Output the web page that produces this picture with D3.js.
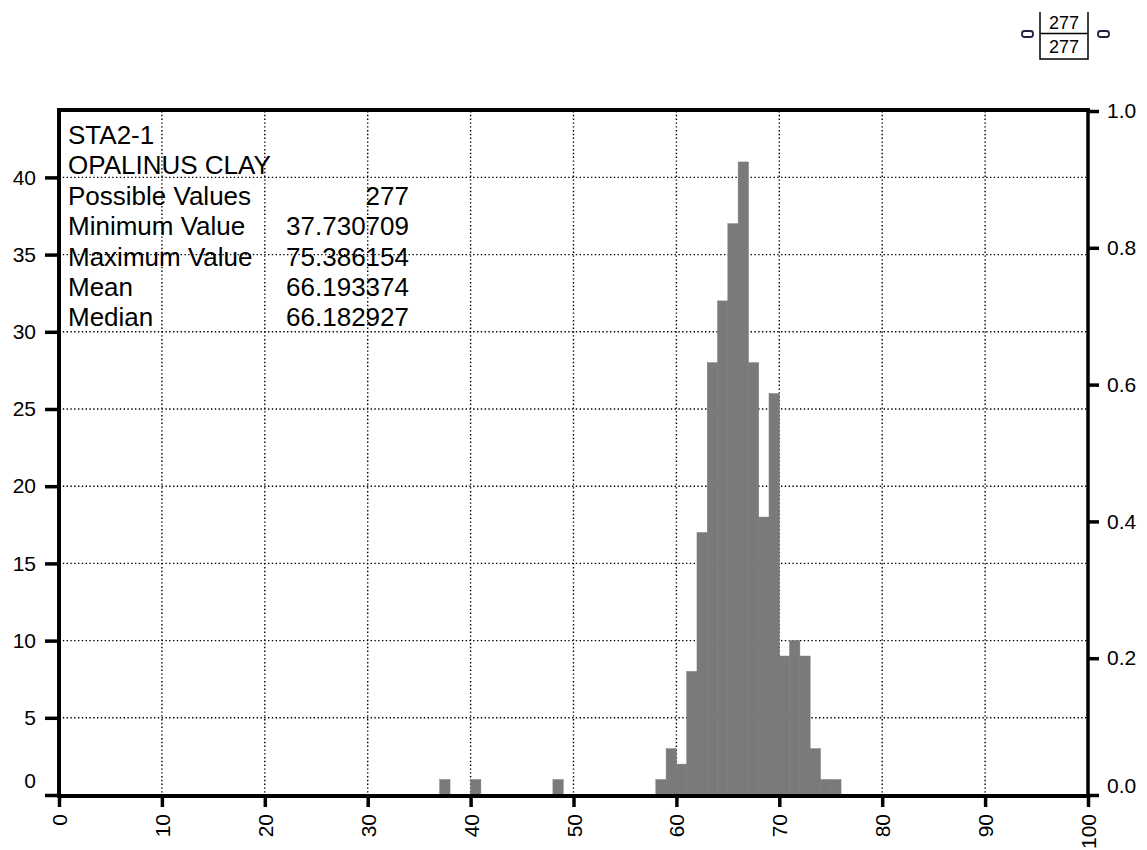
<!DOCTYPE html>
<html>
<head>
<meta charset="utf-8">
<script src="https://cdn.jsdelivr.net/npm/d3@7"></script>
<style>
  body { margin: 0; background: #fff; }
  text { font-family: "Liberation Sans", Arial, sans-serif; }
</style>
</head>
<body>
<div id="grafico"></div>
<script>
// datos del histograma (inicio de cada clase, ancho 1)
const binStarts = [37, 40, 48, 58, 59, 60, 61, 62, 63, 64, 65, 66, 67, 68, 69, 70, 71, 72, 73, 74, 75];
const counts    = [1, 1, 1, 1, 3, 2, 8, 17, 28, 32, 37, 41, 28, 18, 26, 9, 10, 9, 3, 1, 1];
const BIN_WIDTH = 1;

const titleLines = ["STA2-1", "OPALINUS CLAY"];
const statLabels = ["Possible Values", "Minimum Value", "Maximum Value", "Mean", "Median"];
const statValues = ["277", "37.730709", "75.386154", "66.193374", "66.182927"];
const legendValues = ["277", "277"];

const xTicks = [0, 10, 20, 30, 40, 50, 60, 70, 80, 90, 100];
const yTicks = [0, 5, 10, 15, 20, 25, 30, 35, 40];
const y2Ticks = [0, 0.2, 0.4, 0.6, 0.8, 1.0];
const Y_MAX = 44.3;

const WIDTH = 1147;
const HEIGHT = 850;
const LEFT = 59, RIGHT = 1088, TOP = 111, BOTTOM = 795;

const SVG = d3.select("#grafico").append("svg").attr("width", WIDTH).attr("height", HEIGHT);

var escalaX = d3.scaleLinear().domain([0, 100]).range([LEFT, RIGHT]);
var escalaY = d3.scaleLinear().domain([0, Y_MAX]).range([BOTTOM, TOP]);
var escalaY2 = d3.scaleLinear().domain([0, 1]).range([BOTTOM, TOP]);

// rejilla punteada
var rejilla = SVG.append("g")
    .attr("stroke", "#000")
    .attr("stroke-width", 1.4)
    .attr("stroke-dasharray", "1.4,2.4");
rejilla.selectAll(".gx")
    .data(xTicks.filter(d => d > 0 && d < 100))
    .enter().append("line")
    .attr("x1", d => escalaX(d)).attr("x2", d => escalaX(d))
    .attr("y1", TOP).attr("y2", BOTTOM);
rejilla.selectAll(".gy")
    .data(yTicks.filter(d => d > 0))
    .enter().append("line")
    .attr("x1", LEFT).attr("x2", RIGHT)
    .attr("y1", d => escalaY(d)).attr("y2", d => escalaY(d));

// barras
SVG.append("g").selectAll("rect")
    .data(binStarts.map((b, i) => [b, counts[i]]))
    .enter().append("rect")
    .attr("x", d => escalaX(d[0]))
    .attr("width", d => escalaX(d[0] + BIN_WIDTH) - escalaX(d[0]))
    .attr("y", d => escalaY(d[1]))
    .attr("height", d => BOTTOM - escalaY(d[1]))
    .attr("fill", "#7a7a7a")
    .attr("stroke", "#7a7a7a")
    .attr("stroke-width", 0.5);

// texto de estadísticas
var info = SVG.append("g").style("font-size", "26px").attr("fill", "#000");
titleLines.forEach(function(t, i) {
    info.append("text").attr("x", 68).attr("y", 144 + i * 30.4).text(t);
});
statLabels.forEach(function(t, i) {
    info.append("text").attr("x", 68).attr("y", 144 + (i + 2) * 30.4).text(t);
    info.append("text").attr("x", 409).attr("y", 144 + (i + 2) * 30.4)
        .attr("text-anchor", "end").text(statValues[i]);
});

// ejes
var ejeX = d3.axisBottom(escalaX).tickValues(xTicks).tickSize(11).tickPadding(7).tickSizeOuter(0);
var ejeY = d3.axisLeft(escalaY).tickValues(yTicks).tickSize(14).tickPadding(9).tickSizeOuter(0);
var ejeY2 = d3.axisRight(escalaY2).tickValues(y2Ticks).tickSize(11).tickPadding(8).tickSizeOuter(0)
    .tickFormat(d3.format(".1f"));

var gx = SVG.append("g").attr("transform", "translate(0," + (BOTTOM + 1) + ")").call(ejeX);
gx.selectAll(".tick text")
    .attr("transform", "rotate(-90)")
    .attr("x", -18)
    .attr("y", 0)
    .attr("dy", "0.36em")
    .style("text-anchor", "end");

var gy = SVG.append("g").attr("transform", "translate(" + LEFT + ",0)").call(ejeY);
gy.selectAll(".tick").filter(d => d === 0).select("text").attr("dy", "-0.35em");

var gy2 = SVG.append("g").attr("transform", "translate(" + RIGHT + ",0)").call(ejeY2);
gy2.selectAll(".tick").filter(d => d === 0).select("text").attr("dy", "-0.1em");

[gx, gy, gy2].forEach(function(g) {
    g.selectAll(".domain").remove();
    g.selectAll(".tick line").attr("stroke", "#000").attr("stroke-width", 3.5);
    g.selectAll("text").attr("fill", "#000").style("font-size", "21px")
        .style("font-family", "'Liberation Sans', Arial, sans-serif");
});

// marco grueso
var marco = SVG.append("g").attr("stroke", "#000").attr("stroke-linecap", "square");
marco.append("line").attr("x1", LEFT).attr("x2", LEFT).attr("y1", TOP).attr("y2", BOTTOM + 1).attr("stroke-width", 4);
marco.append("line").attr("x1", LEFT).attr("x2", RIGHT).attr("y1", BOTTOM + 1).attr("y2", BOTTOM + 1).attr("stroke-width", 4);
marco.append("line").attr("x1", LEFT).attr("x2", RIGHT).attr("y1", TOP - 1).attr("y2", TOP - 1).attr("stroke-width", 4);
marco.append("line").attr("x1", RIGHT).attr("x2", RIGHT).attr("y1", TOP).attr("y2", BOTTOM + 1).attr("stroke-width", 3.5);

// leyenda arriba a la derecha
var leyenda = SVG.append("g");
leyenda.append("path")
    .attr("d", "M1040,12V59H1088V12M1040,33.5H1088")
    .attr("fill", "none").attr("stroke", "#000").attr("stroke-width", 1.5);
leyenda.selectAll("text")
    .data(legendValues)
    .enter().append("text")
    .attr("x", 1064)
    .attr("y", (d, i) => 29 + i * 24)
    .attr("text-anchor", "middle")
    .style("font-size", "18px")
    .text(d => d);
[1022, 1098].forEach(function(x) {
    leyenda.append("rect")
        .attr("x", x).attr("y", 31).attr("width", 11).attr("height", 6).attr("rx", 2.5)
        .attr("fill", "none").attr("stroke", "#202040").attr("stroke-width", 1.8);
});
</script>
</body>
</html>
